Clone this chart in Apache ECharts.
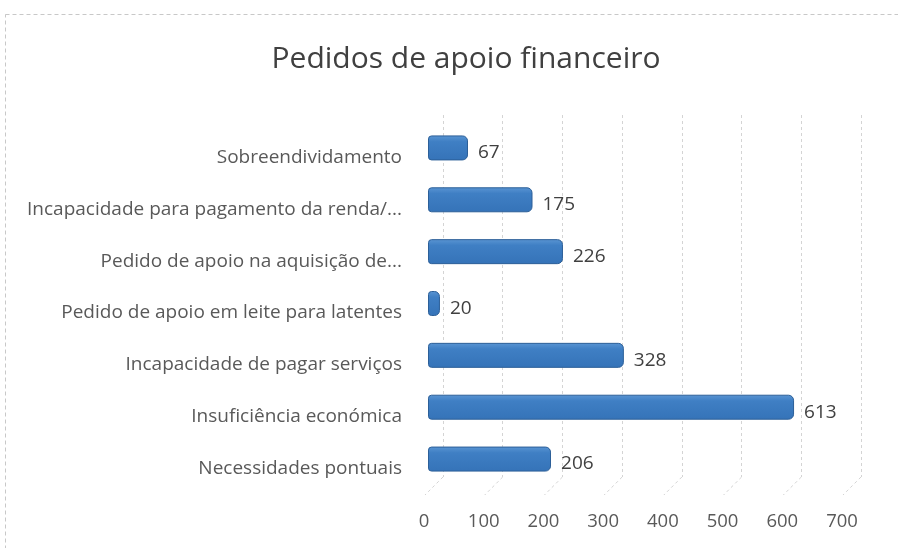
<!DOCTYPE html>
<html>
<head>
<meta charset="utf-8">
<script src="https://cdn.jsdelivr.net/npm/echarts@6/dist/echarts.min.js"></script>
<style>
  html, body { margin: 0; padding: 0; background: #ffffff; }
  #chart { width: 898px; height: 548px; }
</style>
</head>
<body>
<div id="chart"></div>
<script>
const categories = [
  "Necessidades pontuais",
  "Insuficiência económica",
  "Incapacidade de pagar serviços",
  "Pedido de apoio em leite para latentes",
  "Pedido de apoio na aquisição de...",
  "Incapacidade para pagamento da renda/...",
  "Sobreendividamento",
];
const values = [206, 613, 328, 20, 226, 175, 67];
const ticks = [0, 100, 200, 300, 400, 500, 600, 700];

const chart = echarts.init(document.getElementById("chart"));
const font = "'Open Sans', 'Noto Sans', sans-serif";

chart.setOption({
  animation: false,
  backgroundColor: "#ffffff",
  title: {
    text: "Pedidos de apoio financeiro",
    left: 461,
    textAlign: "center",
    top: 39,
    textStyle: { color: "#404040", fontSize: 30, fontWeight: "normal", fontFamily: font },
  },
  graphic: [
    {
      type: "rect",
      shape: { x: 5.5, y: 14.5, width: 900, height: 540 },
      style: { fill: "none", stroke: "#c8c8c8", lineWidth: 1, lineDash: [4, 3] },
      z: -1,
    },
  ],
  grid: [
    { left: 428, width: 418, top: 122, height: 363 },
    { left: 443, width: 418, top: 115, height: 362 },
  ],
  xAxis: [
    {
      type: "value",
      gridIndex: 0,
      min: 0,
      max: 700,
      interval: 100,
      axisLine: { show: false },
      axisTick: { show: false },
      splitLine: { show: false },
      axisLabel: {
        margin: 27,
        padding: [0, 8, 0, 0],
        color: "#595959",
        fontSize: 18.5,
        fontFamily: font,
      },
    },
    {
      type: "value",
      gridIndex: 1,
      min: 0,
      max: 700,
      interval: 100,
      axisLine: { show: false },
      axisTick: { show: false },
      axisLabel: { show: false },
      splitLine: { show: true, lineStyle: { color: "#d4d4d4", type: [3, 3], width: 1 } },
    },
  ],
  yAxis: [
    {
      type: "category",
      gridIndex: 0,
      data: categories,
      axisLine: { show: false },
      axisTick: { show: false },
      axisLabel: {
        margin: 26,
        verticalAlign: "top",
        lineHeight: 19,
        color: "#595959",
        fontSize: 19,
        fontFamily: font,
      },
    },
    {
      type: "value",
      gridIndex: 1,
      min: 0,
      max: 1,
      show: false,
    },
  ],
  series: [
    {
      name: "grelha",
      type: "custom",
      xAxisIndex: 1,
      yAxisIndex: 1,
      silent: true,
      data: ticks.map((t) => [t, 0]),
      renderItem: (params, api) => {
        const p = api.coord([api.value(0), 0]);
        return {
          type: "line",
          shape: { x1: p[0], y1: p[1], x2: p[0] - 18, y2: p[1] + 18 },
          style: { stroke: "#d4d4d4", lineWidth: 1, lineDash: [3, 3] },
        };
      },
      z: 1,
    },
    {
      name: "Pedidos",
      type: "bar",
      xAxisIndex: 0,
      yAxisIndex: 0,
      data: values,
      barWidth: 25,
      z: 3,
      itemStyle: {
        color: new echarts.graphic.LinearGradient(0, 0, 0, 1, [
          { offset: 0, color: "#5a95d3" },
          { offset: 0.25, color: "#3f7fc4" },
          { offset: 1, color: "#3573b8" },
        ]),
        borderColor: "#2c5f98",
        borderWidth: 1,
        borderRadius: [3, 5, 5, 3],
      },
      label: {
        show: true,
        position: "right",
        distance: 10,
        offset: [0, 5],
        color: "#404040",
        fontSize: 19,
        fontFamily: font,
      },
    },
  ],
});
</script>
</body>
</html>
